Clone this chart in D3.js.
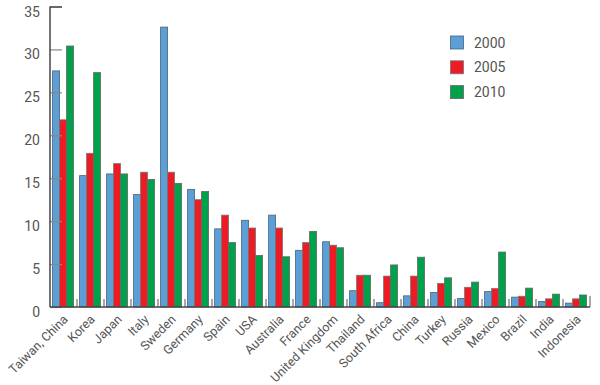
<!DOCTYPE html>
<html>
<head>
<meta charset="utf-8">
<script src="https://d3js.org/d3.v7.min.js"></script>
<style>
    body { margin: 0; background: #fff; }
    text { font-family: Roboto, "DejaVu Sans", sans-serif; fill: #555; }
</style>
</head>
<body>
<div id="chart"></div>
<script>
// values
const countries = ["Taiwan, China", "Korea", "Japan", "Italy", "Sweden", "Germany", "Spain", "USA",
    "Australia", "France", "United Kingdom", "Thailand", "South Africa", "China", "Turkey", "Russia",
    "Mexico", "Brazil", "India", "Indonesia"];
const years = ["2000", "2005", "2010"];
const v2000 = [27.5, 15.3, 15.5, 13.1, 32.6, 13.7, 9.1, 10.1, 10.7, 6.6, 7.6, 1.9, 0.5, 1.3, 1.7, 1.0, 1.8, 1.15, 0.65, 0.45];
const v2005 = [21.8, 17.9, 16.7, 15.7, 15.7, 12.5, 10.7, 9.2, 9.2, 7.5, 7.2, 3.7, 3.6, 3.6, 2.75, 2.3, 2.15, 1.25, 0.95, 0.95];
const v2010 = [30.4, 27.3, 15.5, 14.85, 14.4, 13.45, 7.5, 6.0, 5.85, 8.8, 6.9, 3.7, 4.9, 5.8, 3.4, 2.9, 6.4, 2.2, 1.5, 1.4];
const yTicks = [0, 5, 10, 15, 20, 25, 30, 35];
const colors = ["#5b9fd6", "#ed1c24", "#00a14b"];
const strokes = ["#4a6278", "#777", "#666"];

const width = 600, height = 385;
const plotLeft = 50, plotRight = 590, plotTop = 6.5, plotBottom = 307;

const series = [v2000, v2005, v2010];

const svg = d3.select("#chart").append("svg")
    .attr("width", width)
    .attr("height", height);

const x = d3.scaleBand()
    .domain(countries)
    .range([plotLeft, plotRight])
    .paddingInner(0)
    .paddingOuter(0);

const xs = d3.scaleBand()
    .domain(years)
    .range([2.6, x.bandwidth() - 3.4]);

const y = d3.scaleLinear()
    .domain([0, 35])
    .range([plotBottom, plotTop]);

// bars
series.forEach((vals, si) => {
    svg.append("g")
        .selectAll("rect")
        .data(vals)
        .enter().append("rect")
        .attr("x", (d, i) => x(countries[i]) + xs(years[si]))
        .attr("y", d => y(d))
        .attr("width", xs.bandwidth())
        .attr("height", d => plotBottom - y(d))
        .attr("fill", colors[si])
        .attr("stroke", strokes[si])
        .attr("stroke-width", 0.8);
});

// y axis, ticks pointing inward
const yAxis = svg.append("g")
    .attr("transform", `translate(${plotLeft},0)`)
    .call(d3.axisRight(y).tickValues(yTicks).tickSize(12).tickFormat(""));
yAxis.select(".domain").remove();
yAxis.selectAll("line").attr("stroke", "#888").attr("stroke-width", 1.2);
yAxis.selectAll(".tick").filter(d => d === 35).select("line").attr("stroke", "#444").attr("stroke-width", 1.6);

svg.append("line")
    .attr("x1", plotLeft).attr("x2", plotLeft)
    .attr("y1", y(35)).attr("y2", plotBottom)
    .attr("stroke", "#444").attr("stroke-width", 1.5);

// tick labels sit a little below their ticks in the original
svg.append("g")
    .selectAll("text")
    .data(yTicks)
    .enter().append("text")
    .attr("x", 40)
    .attr("y", d => y(d) + 5)
    .attr("dy", "0.36em")
    .attr("text-anchor", "end")
    .style("font-size", "14px")
    .text(d => d);

// x axis with small upward ticks at group boundaries
svg.append("line")
    .attr("x1", plotLeft).attr("x2", plotRight)
    .attr("y1", plotBottom).attr("y2", plotBottom)
    .attr("stroke", "#444").attr("stroke-width", 1.5);

svg.append("g")
    .selectAll("line")
    .data(countries.slice(1).concat(["__end"]))
    .enter().append("line")
    .attr("x1", d => d === "__end" ? plotRight : x(d))
    .attr("x2", d => d === "__end" ? plotRight : x(d))
    .attr("y1", plotBottom)
    .attr("y2", d => d === "__end" ? plotBottom - 11 : plotBottom - 8)
    .attr("stroke", "#555")
    .attr("stroke-width", 1);

svg.append("g")
    .selectAll("text")
    .data(countries)
    .enter().append("text")
    .attr("transform", d => `translate(${x(d) + x.bandwidth() / 2 + 2},${plotBottom + 10}) rotate(-45)`)
    .attr("text-anchor", "end")
    .attr("dy", "0.35em")
    .style("font-size", "12.5px")
    .text(d => d);

// legend
const legend = svg.append("g")
    .selectAll("g")
    .data(years)
    .enter().append("g")
    .attr("transform", (d, i) => `translate(450.5,${36 + i * 24.8})`);

legend.append("rect")
    .attr("width", 13)
    .attr("height", 13)
    .attr("fill", (d, i) => colors[i])
    .attr("stroke", (d, i) => strokes[i])
    .attr("stroke-width", 0.8);

legend.append("text")
    .attr("x", 23.5)
    .attr("y", 6.5)
    .attr("dy", "0.36em")
    .style("font-size", "14px")
    .text(d => d);
</script>
</body>
</html>
